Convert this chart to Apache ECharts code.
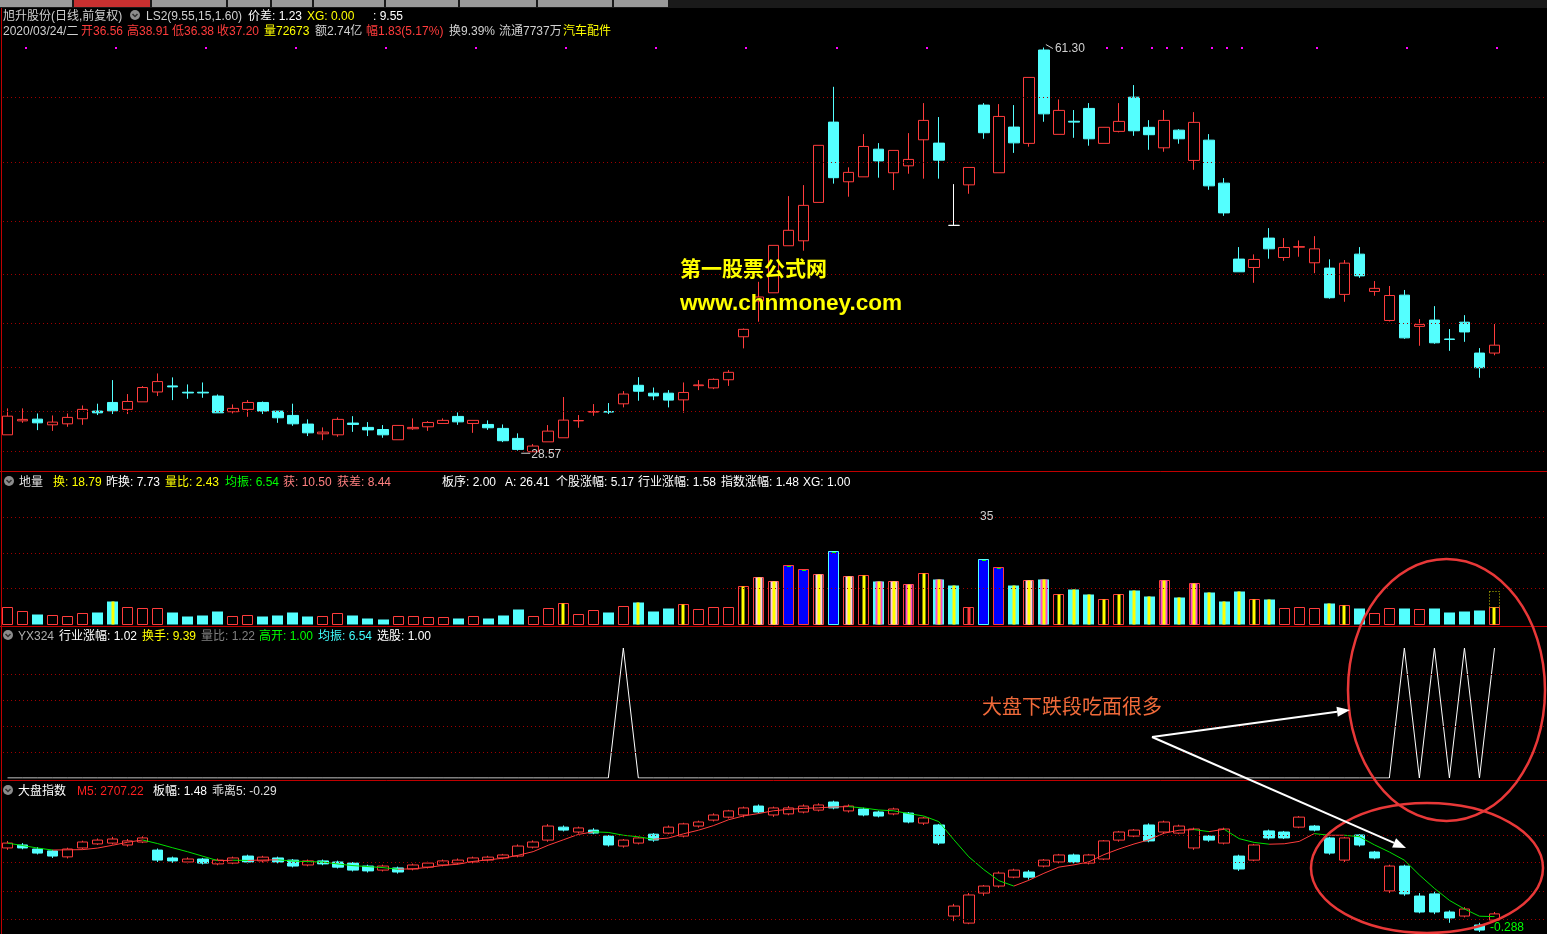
<!DOCTYPE html>
<html><head><meta charset="utf-8">
<script src="https://cdn.jsdelivr.net/npm/echarts@6.0.0/dist/echarts.min.js"></script>
<style>html,body{margin:0;padding:0;background:#000;overflow:hidden}#c{width:1547px;height:934px}</style>
</head><body><div id="c"></div>
<script>
// ---- stock daily candles [open, close, low, high] ----
const stockCandles = [
[29.94,31.45,29.94,32.08],[31.07,31.19,30.91,32.08],[31.21,30.91,30.32,31.67],[30.75,30.97,30.26,31.51],[30.83,31.35,30.59,31.67],
[31.24,32.00,30.75,32.32],[31.86,31.72,31.54,32.46],[32.56,31.88,31.62,34.37],[32.00,32.64,31.62,33.24],[32.61,33.77,32.61,33.88],
[33.41,34.25,33.08,34.91],[33.90,33.82,32.75,34.59],[33.39,33.33,32.86,34.02],[33.39,33.33,32.94,34.18],[33.08,31.72,31.72,33.21],
[31.81,32.08,31.67,32.40],[32.00,32.56,31.40,32.75],[32.56,31.86,31.62,32.64],[31.86,31.32,30.91,31.86],[31.51,30.83,30.67,32.46],
[30.81,30.10,29.84,31.19],[30.02,30.16,29.51,30.54],[29.94,31.19,29.78,31.35],[30.89,30.78,30.18,31.45],[30.54,30.34,29.84,30.97],
[30.37,29.94,29.70,30.73],[29.54,30.70,29.54,30.70],[30.43,30.54,30.34,31.27],[30.59,30.94,30.26,31.05],[30.86,31.11,30.86,31.27],
[31.43,30.99,30.75,31.75],[30.86,31.11,30.10,31.11],[30.78,30.51,30.34,31.11],[30.46,29.46,29.35,30.78],[29.65,28.76,28.66,30.06],
[28.57,29.03,28.57,29.19],[29.37,30.24,29.37,30.73],[29.70,31.13,29.70,33.00],[31.07,31.10,30.51,31.54],[31.78,31.83,31.48,32.43],
[31.83,31.78,31.62,32.51],[32.45,33.24,32.16,33.48],[33.95,33.47,32.70,34.61],[33.31,33.09,32.75,33.77],[33.31,32.75,32.16,33.56],
[32.77,33.37,31.73,34.18],[33.92,33.98,33.56,34.37],[33.74,34.43,33.64,34.51],[34.40,35.00,33.90,35.18],[37.88,38.48,36.94,38.55],
[40.77,41.10,39.10,42.33],[41.44,45.28,41.44,45.28],[45.25,46.50,45.25,49.27],[45.65,48.52,44.85,50.16],[48.76,53.38,48.76,53.38],
[55.26,50.76,50.28,58.12],[50.43,51.19,49.22,51.60],[50.83,53.29,50.83,54.29],[53.07,52.12,50.76,53.56],[51.16,52.97,49.76,52.97],
[51.72,52.24,51.08,54.37],[53.83,55.40,50.68,56.80],[53.56,52.18,50.68,55.67],[46.90,46.90,46.90,50.24],[50.18,51.59,49.46,51.59],
[56.64,54.40,53.91,56.80],[51.16,55.72,51.16,56.72],[54.86,53.58,52.77,56.64],[53.54,58.88,53.27,58.88],[61.10,55.93,55.29,61.30],
[54.27,56.21,54.27,57.10],[55.33,55.26,53.99,56.24],[56.37,53.91,53.35,56.80],[53.54,54.84,53.54,54.84],[54.51,55.32,54.43,56.80],
[57.28,54.56,54.15,58.26],[54.84,54.24,53.02,55.42],[53.18,55.40,52.86,56.24],[54.61,53.91,53.51,54.69],[52.16,55.24,51.40,56.07],
[53.80,50.10,49.78,54.29],[50.32,47.91,47.67,50.73],[44.17,43.14,43.14,45.14],[43.49,44.14,42.25,44.55],[45.87,45.00,44.20,46.68],
[44.30,45.11,44.03,45.87],[45.13,45.18,44.36,45.68],[43.87,45.00,43.03,46.03],[43.44,41.04,40.96,44.15],[41.31,43.84,40.71,44.09],
[44.57,42.81,42.65,45.14],[41.55,41.80,41.20,42.39],[39.20,41.22,39.12,41.99],[41.25,37.79,37.71,41.67],[38.72,38.88,37.15,39.31],
[39.23,37.39,37.31,40.36],[37.70,37.66,36.74,38.50],[39.06,38.27,37.47,39.63],[36.56,35.37,34.56,36.96],[36.56,37.20,36.38,38.91]
];
// price grid levels of the main panel
const mainGridPrices = [57.29, 52.03, 47.25, 42.96, 38.99, 35.43, 31.87, 28.63];
// days carrying an info-marker dot at the top of the main panel
const infoMarkDays = [1,7,13,19,25,31,37,43,49,55,61,73,74,76,77,78,80,81,82,87,93,99];

// ---- turnover (%) per day and its signal class ----
const turnover = [
9.5,7.3,5.75,5.0,4.5,6.1,6.9,13.0,9.5,8.9,
8.9,6.9,4.6,5.2,7.4,4.5,5.0,4.6,5.2,6.9,
4.6,4.5,6.1,5.2,3.5,3.0,4.5,4.5,3.9,3.9,
3.5,4.5,3.5,5.2,8.5,4.5,8.9,11.7,5.6,7.8,
6.9,10.1,12.5,7.4,9.1,11.2,8.4,9.5,9.5,21.2,
26.3,24.0,33.1,30.7,27.9,41.0,26.8,27.4,24.0,24.0,
22.3,28.5,25.1,21.8,9.5,36.3,31.8,21.8,24.6,25.1,
16.8,19.6,16.8,14.0,16.8,19.0,15.6,24.6,15.1,22.9,
17.9,12.8,18.4,14.0,14.0,8.9,9.5,8.9,11.7,10.6,
8.9,6.1,8.9,8.9,8.4,8.9,6.7,7.3,7.8,9.39];
const turnoverForecast = 18.79;
const volSignal = [
'r','r','c','r','r','r','c','cy','r','r',
'r','c','c','c','c','r','r','c','c','c',
'c','r','r','c','c','c','r','r','r','r',
'c','r','c','c','c','r','r','ry','r','r',
'c','r','cy','c','c','ry','r','r','r','ry',
'rw','rw','b','b','rw','bc','rw','ry','cm','rw',
'rm','ry','cm','cy','rr','bc','b','cy','rw','cm',
'ry','cy','cy','ry','ry','cy','cy','rm','cy','rm',
'cy','cy','cy','ry','cy','r','r','r','cy','ry',
'c','r','r','c','r','c','c','c','c','ry'];
const volGridValues = [20, 40, 60];

// ---- YX324 选股 signal ----
const xuangu = [
0,0,0,0,0,0,0,0,0,0, 0,0,0,0,0,0,0,0,0,0, 0,0,0,0,0,0,0,0,0,0, 0,0,0,0,0,0,0,0,0,0,
0,1,0,0,0,0,0,0,0,0, 0,0,0,0,0,0,0,0,0,0, 0,0,0,0,0,0,0,0,0,0, 0,0,0,0,0,0,0,0,0,0,
0,0,0,0,0,0,0,0,0,0, 0,0,0,1,0,1,0,1,0,1];
const yxGridValues = [0.2, 0.4, 0.6, 0.8];

// ---- market index candles [open, close, low, high] ----
const indexCandles = [
[2957,2975,2950,2983],[2968,2957,2952,2975],[2953,2938,2933,2960],[2946,2927,2920,2950],[2924,2953,2918,2958],
[2957,2979,2952,2984],[2972,2986,2968,2992],[2975,2990,2970,2998],[2968,2983,2962,2990],[2979,2994,2975,3000],
[2949,2912,2905,2955],[2920,2909,2902,2925],[2905,2916,2900,2922],[2916,2901,2896,2920],[2898,2912,2893,2918],
[2901,2920,2897,2925],[2927,2905,2900,2932],[2909,2923,2903,2928],[2920,2905,2900,2925],[2912,2890,2885,2916],
[2894,2909,2889,2914],[2909,2898,2893,2914],[2905,2886,2881,2910],[2901,2875,2870,2905],[2890,2872,2866,2895],
[2875,2890,2870,2895],[2883,2868,2862,2888],[2879,2894,2874,2899],[2886,2901,2881,2906],[2894,2909,2889,2914],
[2901,2912,2896,2918],[2905,2920,2900,2925],[2912,2923,2907,2928],[2920,2931,2915,2935],[2927,2964,2922,2970],
[2960,2979,2955,2985],[2986,3038,2980,3045],[3034,3023,3018,3040],[3016,3031,3010,3036],[3023,3012,3008,3030],
[3001,2968,2962,3005],[2964,2986,2958,2990],[2975,2994,2970,2998],[3008,2986,2980,3012],[3012,3034,3008,3040],
[3001,3046,2996,3050],[3038,3053,3032,3058],[3060,3079,3055,3085],[3071,3094,3066,3098],[3079,3105,3070,3110],
[3112,3090,3085,3118],[3079,3105,3072,3110],[3083,3105,3078,3112],[3090,3112,3085,3118],[3097,3116,3092,3122],
[3127,3105,3100,3132],[3094,3112,3088,3118],[3101,3079,3074,3106],[3090,3075,3070,3095],[3083,3101,3078,3106],
[3086,3053,3048,3090],[3049,3068,3042,3072],[3042,2975,2968,3046],[2705,2742,2686,2750],[2679,2783,2675,2790],
[2790,2816,2780,2820],[2816,2864,2810,2870],[2849,2875,2845,2880],[2868,2849,2840,2875],[2890,2912,2885,2916],
[2905,2931,2900,2935],[2931,2905,2900,2936],[2901,2931,2896,2935],[2916,2983,2912,2986],[2986,3016,2980,3020],
[3001,3023,2997,3027],[3042,2983,2978,3048],[3016,3053,3010,3058],[3012,3038,3008,3043],[2957,3027,2950,3032],
[3001,2986,2980,3005],[2975,3027,2970,3032],[2927,2879,2872,2932],[2912,2968,2908,2972],[3020,2994,2988,3025],
[3016,2994,2990,3020],[3034,3071,3030,3075],[3038,3023,3018,3042],[2994,2938,2932,2998],[2912,2994,2905,2998],
[3005,2968,2962,3008],[2942,2920,2915,2946],[2798,2890,2790,2895],[2890,2787,2780,2895],[2779,2720,2715,2790],
[2787,2720,2712,2795],[2720,2698,2680,2726],[2705,2731,2700,2738],[2672,2653,2646,2680],[2690,2713,2685,2720]
];
const idxGridValues = [3005, 2905, 2798, 2694];

// ---- chart ----
const RED = '#ff3c3c', CYAN = '#54ffff', GRIDC = '#a00000';
const N = stockCandles.length;
const cats = stockCandles.map((_, i) => String(i));
const ma5 = indexCandles.map((_, i) => {
  const s = indexCandles.slice(Math.max(0, i - 4), i + 1);
  return s.reduce((a, r) => a + r[1], 0) / s.length;
});

const chart = echarts.init(document.getElementById('c'), null, {renderer: 'canvas', width: 1547, height: 934});
const GW = 1502;
const xAx = k => ({type: 'category', gridIndex: k, data: cats, boundaryGap: true, show: false});
const yAx = (k, min, max) => ({type: 'value', gridIndex: k, min, max, show: false, splitLine: {show: false}});

function volItem(params, api) {
  const i = api.value(0), v = api.value(1), t = volSignal[i];
  const top = api.coord([i, v]), base = api.coord([i, 0]);
  const w = 11, x = Math.round(top[0] - w / 2) + 0.5, y = Math.round(top[1]) + 0.5, h = Math.round(base[1]) - Math.round(top[1]);
  const cx = Math.round(top[0]);
  const ch = [];
  const outline = (c) => ch.push({type: 'rect', shape: {x, y, width: w - 1, height: h}, style: {fill: null, stroke: c, lineWidth: 1}});
  const fillR = (xx, ww, c) => ch.push({type: 'rect', shape: {x: xx, y: y, width: ww, height: h}, style: {fill: c}});
  if (t === 'c') fillR(x - 0.5, w, CYAN);
  else if (t === 'r') outline(RED);
  else if (t === 'ry') { outline(RED); fillR(cx - 1.5, 3, '#ffff00'); }
  else if (t === 'rr') { outline(RED); fillR(cx - 1.5, 3, RED); }
  else if (t === 'rw') { outline(RED); fillR(cx - 3.5, 7, '#ffc8e6'); fillR(cx - 1.5, 3, '#ffff00'); }
  else if (t === 'rm') { outline(RED); fillR(cx - 3.5, 7, '#ff50c8'); fillR(cx - 1.5, 3, '#ffff00'); }
  else if (t === 'cy') { fillR(x - 0.5, w, CYAN); fillR(cx - 1.5, 3, '#ffff00'); }
  else if (t === 'cm') { fillR(x - 0.5, w, CYAN); fillR(cx - 3.5, 7, '#ff50c8'); fillR(cx - 1.5, 3, '#ffff00'); }
  else if (t === 'b' || t === 'bc') {
    fillR(x - 0.5, w, '#0000ff');
    outline(t === 'b' ? RED : CYAN);
    ch.push({type: 'line', shape: {x1: cx - 2, y1: y + 1, x2: cx + 2, y2: y + 1}, style: {stroke: '#00ff00', lineWidth: 1}});
  }
  if (i === N - 1) {
    const ft = api.coord([i, turnoverForecast]);
    ch.push({type: 'rect', shape: {x, y: Math.round(ft[1]) + 0.5, width: w - 1, height: Math.round(top[1]) - Math.round(ft[1])},
      style: {fill: null, stroke: '#c8c800', lineWidth: 1, lineDash: [1, 2]}});
  }
  return {type: 'group', children: ch};
}

function maItem(params, api) {
  const i = api.value(0);
  if (i === 0) return null;
  const a = api.coord([i - 1, ma5[i - 1]]), b = api.coord([i, ma5[i]]);
  return {type: 'line', shape: {x1: a[0], y1: a[1], x2: b[0], y2: b[1]},
    style: {stroke: ma5[i] >= ma5[i - 1] ? RED : '#00e000', lineWidth: 1}};
}

const option = {
  backgroundColor: '#000',
  animation: false,
  grid: [
    {left: 0, top: 40, width: GW, height: 431},
    {left: 0, top: 472, width: GW, height: 152.3},
    {left: 0, top: 648, width: GW, height: 130},
    {left: 0, top: 781, width: GW, height: 153}
  ],
  xAxis: [xAx(0), xAx(1), xAx(2), xAx(3)],
  yAxis: [yAx(0, 27.01, 61.91), yAx(1, 0, 85.08), yAx(2, 0, 1), yAx(3, 2638.6, 3204.7)],
  series: [
    {type: 'candlestick', xAxisIndex: 0, yAxisIndex: 0, data: stockCandles, barWidth: 11, silent: true,
      itemStyle: {color: '#000', color0: CYAN, borderColor: RED, borderColor0: CYAN, borderColorDoji: '#ffffff', borderWidth: 1}},
    {type: 'custom', xAxisIndex: 1, yAxisIndex: 1, data: turnover.map((v, i) => [i, v]), renderItem: volItem, silent: true},
    {type: 'line', xAxisIndex: 2, yAxisIndex: 2, data: xuangu, symbol: 'none', silent: true,
      lineStyle: {color: '#ffffff', width: 1}},
    {type: 'candlestick', xAxisIndex: 3, yAxisIndex: 3, data: indexCandles, barWidth: 11, silent: true,
      itemStyle: {color: '#000', color0: CYAN, borderColor: RED, borderColor0: CYAN, borderWidth: 1}},
    {type: 'custom', xAxisIndex: 3, yAxisIndex: 3, data: ma5.map((v, i) => [i, v]), renderItem: maItem, silent: true, z: 5}
  ]
};
chart.setOption(option);

// ---------- overlays ----------
const FONT = '12px "Liberation Sans", "Noto Sans CJK SC", sans-serif';
const G = [];
const txt = (x, y, s, c, font) => G.push({type: 'text', x, y: font ? y : y + 1.5, z: 50, style: {text: s, fill: c, font: font || FONT, verticalAlign: 'middle', align: 'left'}});
const hline = (x1, x2, y, c, dash) => G.push({type: 'line', z: 20, shape: {x1, y1: y + 0.5, x2, y2: y + 0.5}, style: {stroke: c, lineWidth: 1, lineDash: dash || null}});
const icon = (cx, cy) => {
  G.push({type: 'circle', z: 50, shape: {cx, cy, r: 5}, style: {fill: '#8c8c8c'}});
  G.push({type: 'polyline', z: 51, shape: {points: [[cx - 2.5, cy - 1], [cx, cy + 1.5], [cx + 2.5, cy - 1]]}, style: {stroke: '#303030', lineWidth: 1.5, fill: null}});
};
const py = (k, v) => chart.convertToPixel({yAxisIndex: k}, v);
const px = (k, i) => chart.convertToPixel({xAxisIndex: k}, i);

// tab strip
G.push({type: 'rect', z: 40, shape: {x: 0, y: 0, width: 1547, height: 8}, style: {fill: '#1a1a1a'}});
[[0, 72, '#9a9a9a'], [74, 150, '#c83030'], [152, 226, '#9a9a9a'], [228, 270, '#9a9a9a'], [272, 312, '#9a9a9a'], [314, 384, '#9a9a9a'],
 [386, 458, '#9a9a9a'], [460, 536, '#9a9a9a'], [538, 612, '#9a9a9a'], [614, 668, '#9a9a9a']].forEach(t =>
  G.push({type: 'rect', z: 41, shape: {x: t[0], y: 0, width: t[1] - t[0], height: 7}, style: {fill: t[2]}}));

// frame
G.push({type: 'line', z: 30, shape: {x1: 1.5, y1: 8, x2: 1.5, y2: 934}, style: {stroke: '#c00000', lineWidth: 1}});
hline(0, 1547, 471, '#c00000');
hline(0, 1547, 626, '#c00000');
hline(0, 1547, 780, '#c00000');

// grid lines
const DOT = [1, 3];
mainGridPrices.forEach(v => hline(3, 1547, Math.round(py(0, v)), GRIDC, DOT));
volGridValues.forEach(v => hline(3, 1547, Math.round(py(1, v)), GRIDC, DOT));
yxGridValues.forEach(v => hline(3, 1547, Math.round(py(2, v)), GRIDC, DOT));
idxGridValues.forEach(v => hline(3, 1547, Math.round(py(3, v)), GRIDC, DOT));

// info marker dots
infoMarkDays.forEach(d => G.push({type: 'rect', z: 45, shape: {x: Math.round(px(0, d)) + 2, y: 47, width: 2, height: 2}, style: {fill: '#ff00ff'}}));

// header line 1
txt(3, 15, '旭升股份(日线,前复权)', '#d0d0d0');
icon(135, 15);
txt(146, 15, 'LS2(9.55,15,1.60)', '#d0d0d0');
txt(248, 15, '价差: 1.23', '#ffffff');
txt(307, 15, 'XG: 0.00', '#ffff00');
txt(373, 15, ': 9.55', '#ffffff');
// header line 2
txt(3, 30, '2020/03/24/二', '#d0d0d0');
txt(81, 30, '开36.56', RED);
txt(127, 30, '高38.91', RED);
txt(172, 30, '低36.38', RED);
txt(217, 30, '收37.20', RED);
txt(264, 30, '量72673', '#ffff00');
txt(315, 30, '额2.74亿', '#d0d0d0');
txt(366, 30, '幅1.83(5.17%)', RED);
txt(449, 30, '换9.39%', '#d0d0d0');
txt(499, 30, '流通7737万', '#d0d0d0');
txt(563, 30, '汽车配件', '#ffff00');

// volume header
icon(9, 481);
txt(19, 481, '地量', '#e0e0e0');
txt(53, 481, '换: 18.79', '#ffff00');
txt(106, 481, '昨换: 7.73', '#ffffff');
txt(165, 481, '量比: 2.43', '#ffff00');
txt(225, 481, '均振: 6.54', '#00ff00');
txt(283, 481, '获: 10.50', '#ff8080');
txt(337, 481, '获差: 8.44', '#ff8080');
txt(442, 481, '板序: 2.00', '#ffffff');
txt(505, 481, 'A: 26.41', '#ffffff');
txt(556, 481, '个股涨幅: 5.17', '#ffffff');
txt(638, 481, '行业涨幅: 1.58', '#ffffff');
txt(721, 481, '指数涨幅: 1.48', '#ffffff');
txt(803, 481, 'XG: 1.00', '#ffffff');
txt(980, 515, '35', '#d0d0d0');

// YX324 header
icon(8, 635);
txt(18, 635, 'YX324', '#b0b0b0');
txt(59, 635, '行业涨幅: 1.02', '#ffffff');
txt(142, 635, '换手: 9.39', '#ffff00');
txt(201, 635, '量比: 1.22', '#808080');
txt(259, 635, '高开: 1.00', '#00ff00');
txt(318, 635, '均振: 6.54', '#40ffff');
txt(377, 635, '选股: 1.00', '#ffffff');

// index header
icon(8, 790);
txt(18, 790, '大盘指数', '#ffffff');
txt(77, 790, 'M5: 2707.22', '#ff2020');
txt(153, 790, '板幅: 1.48', '#ffffff');
txt(212, 790, '乖离5: -0.29', '#e0e0e0');
txt(1490, 926, '-0.288', '#00ff00');

// high / low markers
(function () {
  let hi = 0, lo = 0;
  stockCandles.forEach((r, i) => { if (r[3] > stockCandles[hi][3]) hi = i; if (r[2] < stockCandles[lo][2]) lo = i; });
  const hx = px(0, hi), hy = py(0, stockCandles[hi][3]);
  G.push({type: 'line', z: 30, shape: {x1: hx + 2, y1: hy - 3, x2: hx + 9, y2: hy + 1}, style: {stroke: '#d0d0d0', lineWidth: 1}});
  txt(hx + 11, hy, stockCandles[hi][3].toFixed(2), '#d0d0d0');
  const lx = px(0, lo), ly = py(0, stockCandles[lo][2]);
  G.push({type: 'line', z: 30, shape: {x1: lx - 12, y1: ly + 1.5, x2: lx - 3, y2: ly + 1.5}, style: {stroke: '#d0d0d0', lineWidth: 1}});
  txt(lx - 2, ly + 1, stockCandles[lo][2].toFixed(2), '#d0d0d0');
})();

// watermark text
txt(680, 268, '第一股票公式网', '#ffff00', 'bold 21px "Noto Sans CJK SC", sans-serif');
txt(680, 304, 'www.chnmoney.com', '#ffff00', 'bold 22.6px "Liberation Sans", Arial, sans-serif');

// annotation
txt(982, 706, '大盘下跌段吃面很多', '#f06a3a', '20px "Noto Sans CJK SC", sans-serif');
G.push({type: 'ellipse', z: 60, shape: {cx: 1446.5, cy: 690, rx: 98.5, ry: 131}, style: {fill: null, stroke: '#e83838', lineWidth: 2.5}});
G.push({type: 'ellipse', z: 60, shape: {cx: 1427, cy: 868, rx: 116, ry: 65}, style: {fill: null, stroke: '#e83838', lineWidth: 2.5}});
function arrow(x1, y1, x2, y2) {
  const a = Math.atan2(y2 - y1, x2 - x1), L = 13, Wd = 5;
  const bx = x2 - L * Math.cos(a), by = y2 - L * Math.sin(a);
  G.push({type: 'line', z: 60, shape: {x1, y1, x2: bx, y2: by}, style: {stroke: '#ffffff', lineWidth: 2}});
  G.push({type: 'polygon', z: 60, shape: {points: [[x2, y2], [bx - Wd * Math.sin(a), by + Wd * Math.cos(a)], [bx + Wd * Math.sin(a), by - Wd * Math.cos(a)]]}, style: {fill: '#ffffff'}});
}
arrow(1152, 737, 1350, 710);
arrow(1152, 737, 1406, 848);

chart.setOption({graphic: G});
</script></body></html>
